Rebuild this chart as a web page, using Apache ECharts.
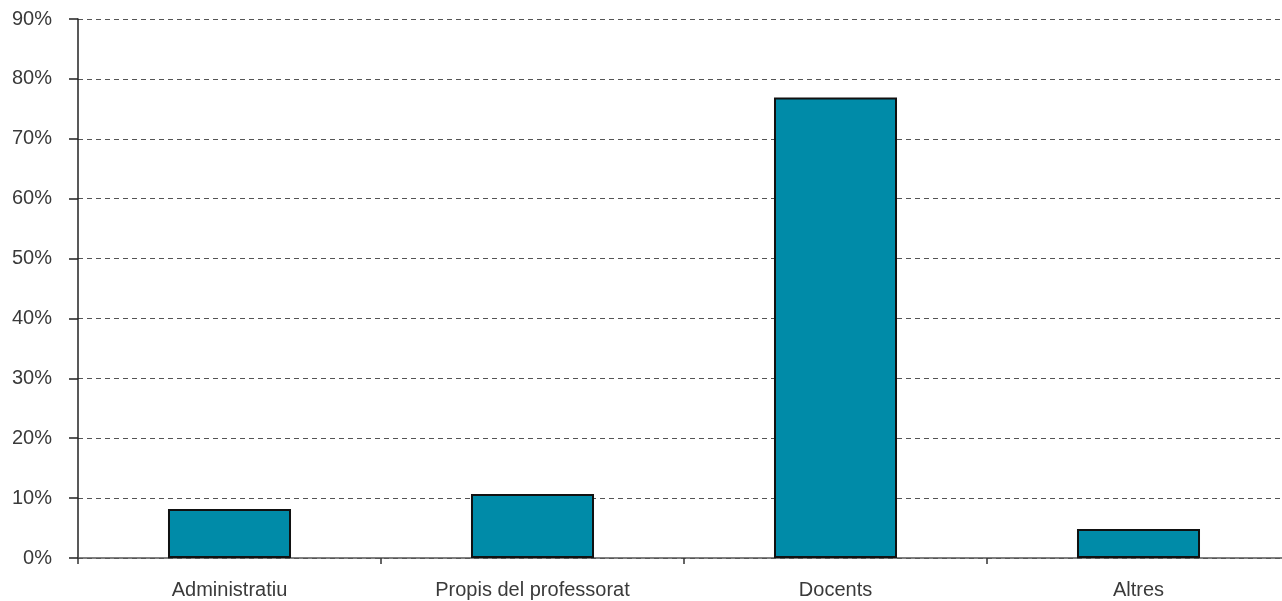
<!DOCTYPE html>
<html><head><meta charset="utf-8">
<script src="https://cdn.jsdelivr.net/npm/echarts@6/dist/echarts.min.js"></script>
<style>html,body{margin:0;padding:0;background:#fff;overflow:hidden}#c{width:1290px;height:601px}</style>
</head><body><div id="c"></div>
<script>
const categories = ["Administratiu", "Propis del professorat", "Docents", "Altres"];
const values = [8.2, 10.7, 76.9, 4.85];
const yTicks = [0, 10, 20, 30, 40, 50, 60, 70, 80, 90];

const chart = echarts.init(document.getElementById('c'));
chart.setOption({
  animation: false,
  grid: {left: 78, right: 0, top: 19, bottom: 43, containLabel: false},
  xAxis: {
    type: 'category', data: categories,
    axisLine: {lineStyle: {color: '#555', width: 1.5}},
    axisTick: {show: true, length: 6, lineStyle: {color: '#333', width: 1.5}},
    axisLabel: {color: '#3a3a3a', fontSize: 20, margin: 22, fontFamily: 'Liberation Sans'}
  },
  yAxis: {
    type: 'value', min: yTicks[0], max: yTicks[yTicks.length-1], interval: 10,
    axisLine: {show: true, lineStyle: {color: '#222', width: 1.5}},
    axisTick: {show: true, length: 9, lineStyle: {color: '#222', width: 1.5}},
    axisLabel: {color: '#3a3a3a', fontSize: 20, margin: 26, fontFamily: 'Liberation Sans', formatter: v => v + '%'},
    splitLine: {show: true, lineStyle: {color: '#555', type: [5, 4], width: 1}}
  },
  series: [{
    type: 'bar', data: values, barWidth: '40.6%',
    itemStyle: {color: '#008BA8', borderColor: '#111', borderWidth: 2}
  }]
});
</script></body></html>
